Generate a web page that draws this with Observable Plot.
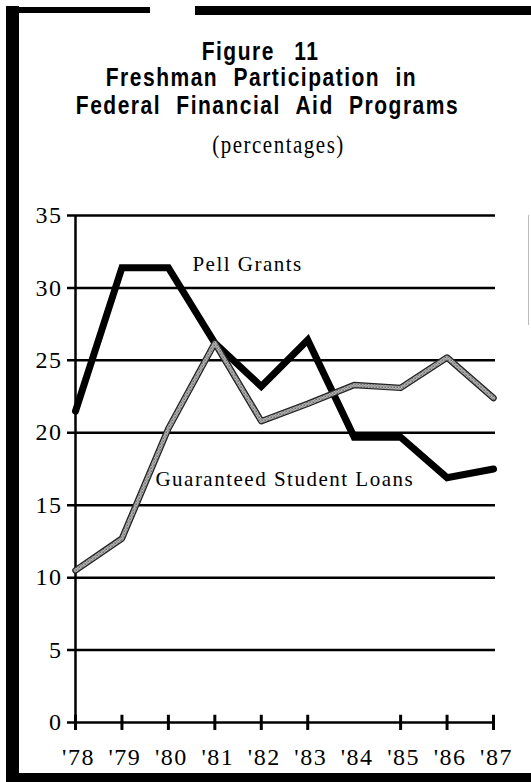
<!DOCTYPE html>
<html>
<head>
<meta charset="utf-8">
<script src="https://cdn.jsdelivr.net/npm/d3@7"></script>
<script src="https://cdn.jsdelivr.net/npm/@observablehq/plot@0.6"></script>
<style>
  html, body { margin: 0; padding: 0; background: #fff; }
  #page { position: relative; width: 531px; height: 782px; overflow: hidden; background: #fff; }
  .bar { position: absolute; background: #000; }
  .t { position: absolute; left: 0; width: 531px; text-align: center; color: #000; white-space: nowrap; line-height: 1; }
  .ts { font-family: "Liberation Sans", Arial, sans-serif; font-weight: bold; font-size: 21px; letter-spacing: 1.5px; word-spacing: 8px; transform-origin: 50% 100%; }
  .tr { font-family: "Liberation Serif", "Times New Roman", serif; font-size: 21px; letter-spacing: 1.5px; transform-origin: 50% 100%; }
  #chart { position: absolute; left: 0; top: 170px; }
  #chart svg text { font-family: "Liberation Serif", "Times New Roman", serif !important; }
</style>
</head>
<body>
<div id="page">
  <div class="bar" style="left:6px; top:6px; width:13px; height:776px;"></div>
  <div class="bar" style="left:6px; top:7px; width:144px; height:6px;"></div>
  <div class="bar" style="left:195px; top:6px; width:336px; height:9px;"></div>
  <div class="bar" style="left:6px; top:773px; width:525px; height:9px;"></div>
  <div class="bar" style="left:528px; top:215px; width:1px; height:110px; background:#bbb;"></div>

  <div class="t ts" style="top:43px; transform: translateX(-5px) scaleY(1.25); word-spacing:12px;">Figure 11</div>
  <div class="t ts" style="top:69px; transform: translateX(-4px) scaleY(1.25);">Freshman Participation in</div>
  <div class="t ts" style="top:97px; transform: translateX(2px) scaleY(1.25);">Federal Financial Aid Programs</div>
  <div class="t tr" style="top:137px; transform: translateX(13px) scaleY(1.2);">(percentages)</div>

  <div id="chart"></div>
</div>
<script>
// ---- data ----
const years = [1978, 1979, 1980, 1981, 1982, 1983, 1984, 1985, 1986, 1987];
const yearLabels = ["'78", "'79", "'80", "'81", "'82", "'83", "'84", "'85", "'86", "'87"];
const pellGrants = [21.5, 31.4, 31.4, 26.2, 23.2, 26.4, 19.7, 19.7, 16.9, 17.5];
const guaranteedLoans = [10.5, 12.7, 20.3, 26.2, 20.8, 22.0, 23.3, 23.1, 25.2, 22.4];
const yTicks = [0, 5, 10, 15, 20, 25, 30, 35];
const gridValues = [5, 10, 15, 20, 25, 30, 35];
const tickYears = [1978, 1979, 1980, 1981, 1982, 1983, 1985, 1986, 1987];
const seriesNames = ["Pell Grants", "Guaranteed Student Loans"];

const pellRows = years.map((x, i) => ({x, y: pellGrants[i]}));
const gslRows = years.map((x, i) => ({x, y: guaranteedLoans[i]}));
const pellLabel = [{x: years[2], y: pellGrants[2], text: seriesNames[0]}];
const gslLabel = [{x: years[2], y: guaranteedLoans[2], text: seriesNames[1]}];

const serif = "'Liberation Serif', 'Times New Roman', serif";

const chart = Plot.plot({
  width: 531,
  height: 612,
  marginLeft: 75,
  marginRight: 38,
  marginTop: 45,
  marginBottom: 60,
  style: {
    fontFamily: serif,
    fontSize: "23px",
    color: "#000",
    background: "transparent",
    overflow: "visible",
    letterSpacing: "1.5px"
  },
  x: {domain: [1978, 1987]},
  y: {domain: [0, 35]},
  marks: [
    Plot.ruleY(gridValues, {stroke: "#000", strokeWidth: 2.5, insetLeft: -8, insetRight: -2}),
    Plot.ruleY([0], {stroke: "#000", strokeWidth: 2.5, insetLeft: -8}),
    Plot.ruleX([years[0]], {y1: 0, y2: 35, stroke: "#000", strokeWidth: 2.5}),
    Plot.ruleX(tickYears, {y1: -0.55, y2: 0.5, stroke: "#000", strokeWidth: 3}),
    Plot.axisY({ticks: yTicks, tickSize: 0, tickPadding: 13, label: null, fontSize: 24, fontFamily: serif}),
    Plot.axisX({ticks: years, tickSize: 0, tickPadding: 25, label: null, fontSize: 24, fontFamily: serif, dx: 3,
      tickFormat: d => yearLabels[years.indexOf(d)]}),
    Plot.line(pellRows, {x: "x", y: "y", stroke: "#000", strokeWidth: 7, strokeLinejoin: "miter", strokeMiterlimit: 3}),
    Plot.line(gslRows, {x: "x", y: "y", stroke: "#222", strokeWidth: 6.5, strokeLinejoin: "round"}),
    Plot.line(gslRows, {x: "x", y: "y", stroke: "url(#chk)", strokeWidth: 4, strokeLinejoin: "round"}),
    Plot.text(pellLabel, {x: "x", y: "y", text: "text", textAnchor: "start", lineAnchor: "bottom", dx: 24, dy: 3, fontSize: 21, fontFamily: serif, fill: "#000"}),
    Plot.text(gslLabel, {x: "x", y: "y", text: "text", textAnchor: "start", lineAnchor: "bottom", dx: -13, dy: 58, fontSize: 21, fontFamily: serif, fill: "#000"})
  ]
});

// checkered pattern used for the Guaranteed Student Loans line
const svgSel = d3.select(chart.tagName.toLowerCase() === "svg" ? chart : chart.querySelector("svg"));
const pat = svgSel.insert("defs", ":first-child")
  .append("pattern").attr("id", "chk").attr("patternUnits", "userSpaceOnUse")
  .attr("width", 3).attr("height", 3);
pat.append("rect").attr("width", 3).attr("height", 3).attr("fill", "#fff");
pat.append("rect").attr("x", 0).attr("y", 0).attr("width", 1.5).attr("height", 1.5).attr("fill", "#111");
pat.append("rect").attr("x", 1.5).attr("y", 1.5).attr("width", 1.5).attr("height", 1.5).attr("fill", "#555");
svgSel.selectAll("text").attr("font-family", serif).style("font-family", serif);

document.getElementById("chart").appendChild(chart);
</script>
</body>
</html>
